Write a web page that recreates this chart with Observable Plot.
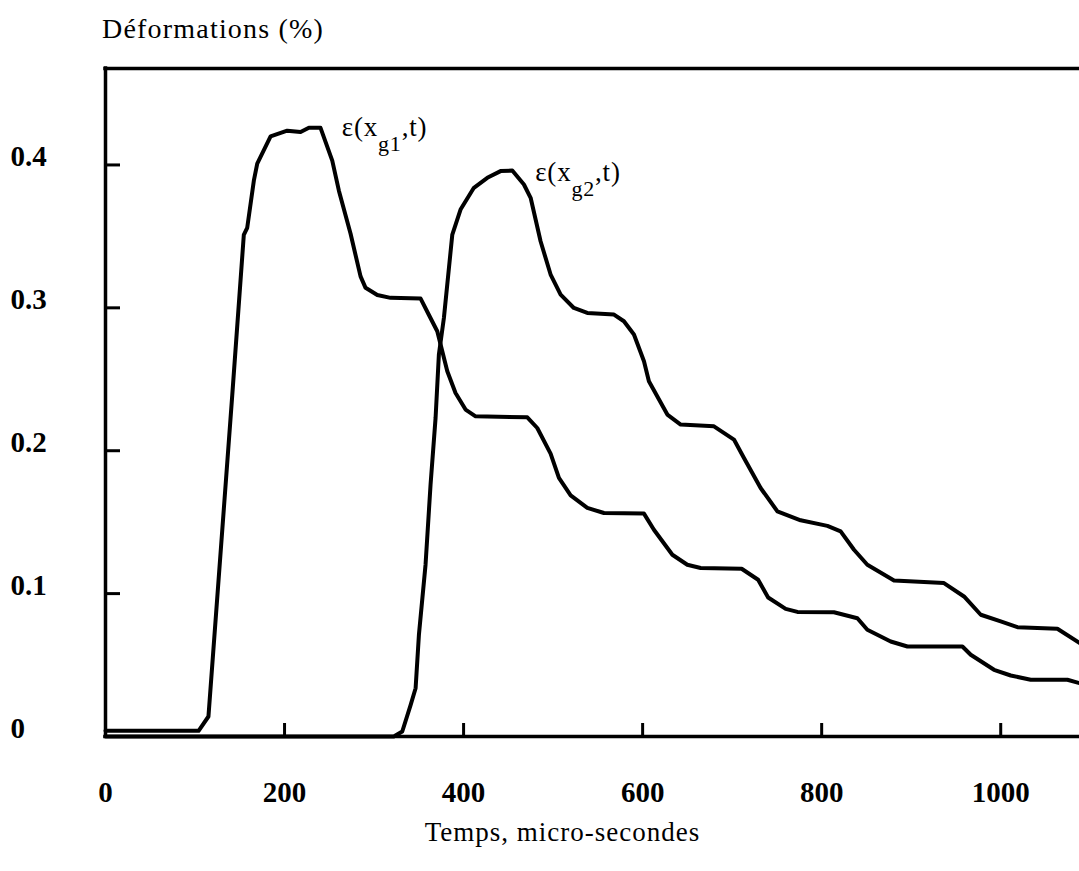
<!DOCTYPE html>
<html><head><meta charset="utf-8">
<script src="https://cdn.jsdelivr.net/npm/d3@7"></script>
<script src="https://cdn.jsdelivr.net/npm/@observablehq/plot@0.6"></script>
<style>
html,body{margin:0;padding:0;background:#fff;}
#title{height:50px;position:relative;font-family:"Liberation Serif","Times New Roman",serif;font-size:28px;line-height:28px;color:#000;}
#title span{position:absolute;left:102px;top:15px;letter-spacing:1.2px;white-space:nowrap;}
.xtitle text{letter-spacing:1px;}
.curve-label text{letter-spacing:0.8px;}
</style></head><body>
<div id="title"><span>Déformations (%)</span></div>
<div id="chart"></div>
<script>
// Temps (micro-secondes) and déformations (%)
const timeG1 = [0,104,115,141.6,154.5,158.3,165.7,169.5,184.4,203,217.9,227.2,240.2,253.3,260.7,273.7,284.9,290.5,303.6,318.4,352,361.3,370.6,381.8,391,402.2,413.4,471.2,482.3,497.2,506.5,519.6,538.2,556.8,601.5,612.6,633.2,649.9,664.8,710.6,729,740.2,759.8,772.9,813.7,839.9,851,877.1,895.8,957.2,966.5,992.5,1011.2,1033.5,1074.5,1088.3];
const strainG1 = [0.004,0.004,0.014,0.239,0.351,0.356,0.389,0.401,0.420,0.424,0.423,0.426,0.426,0.403,0.382,0.352,0.322,0.314,0.309,0.307,0.3065,0.295,0.2836,0.2556,0.2404,0.2288,0.2241,0.2234,0.2159,0.198,0.181,0.1688,0.160,0.1564,0.156,0.1447,0.1272,0.1202,0.1179,0.1174,0.1097,0.0973,0.0893,0.0872,0.087,0.0828,0.0747,0.0665,0.063,0.063,0.0572,0.0467,0.0427,0.0397,0.0397,0.0373];
const timeG2 = [0,303.6,322,331.5,340.8,346.4,350.1,357.5,363.1,368.7,372.4,378,387.4,396.6,411.5,426.5,441.3,454.4,467.4,474.9,486,497.2,508.4,523.2,538.2,568,579.1,590.3,601.5,607,627.6,642.5,679.7,702,713.2,731.8,750.5,776.5,806.4,821.2,836.1,851,880.8,936.6,959,977.7,1000,1018.7,1063.3,1088.3];
const strainG2 = [0,0,0,0.0035,0.022,0.0338,0.0712,0.1202,0.1763,0.2229,0.2673,0.2929,0.3513,0.3688,0.384,0.391,0.3957,0.3961,0.3863,0.377,0.3466,0.3233,0.3093,0.2999,0.2964,0.2953,0.2906,0.2813,0.2626,0.2486,0.2253,0.2183,0.2171,0.2078,0.1949,0.1739,0.1576,0.1513,0.1474,0.1436,0.1307,0.1202,0.1092,0.1074,0.098,0.0852,0.0805,0.0765,0.0754,0.0653];
const xTicks = [0,200,400,600,800,1000];
const yTicks = [0,0.1,0.2,0.3,0.4];
const labelNames = ["g1","g2"];
const labelTime = [264,480];
const labelStrain = [0.42,0.389];
const xTitle = "Temps, micro-secondes";

const xDomain = [0,1088];
const yDomain = [0,0.4675];

const g1 = timeG1.map((t,i)=>({t, v: strainG1[i]}));
const g2 = timeG2.map((t,i)=>({t, v: strainG2[i]}));
const labels = labelNames.map((n,i)=>({name:n, t: labelTime[i], v: labelStrain[i]}));

const W = 1079, H = 821, mL = 105, mR = 0, mT = 18, mB = 135;
const serif = '"Liberation Serif","Times New Roman",serif';

const plot = Plot.plot({
  width: W, height: H,
  marginLeft: mL, marginRight: mR, marginTop: mT, marginBottom: mB,
  style: {fontFamily: serif, color: "#000", background: "#fff", overflow: "visible"},
  x: {domain: xDomain},
  y: {domain: yDomain},
  marks: [
    Plot.tickX(xTicks.slice(1), {x: d=>d, insetTop: (H-mT-mB)-13, stroke: "#000", strokeWidth: 3}),
    Plot.tickY(yTicks.slice(1), {y: d=>d, insetRight: (W-mL-mR)-15, stroke: "#000", strokeWidth: 3}),
    Plot.axisX(xTicks, {tickSize: 0, tickPadding: 45, fontSize: 29, fontWeight: "bold", label: null, tickFormat: d=>String(d)}),
    Plot.axisY(yTicks, {tickSize: 0, tickPadding: 95, textAnchor: "start", dy: -8, fontSize: 29, fontWeight: "bold", label: null, tickFormat: d=>String(d)}),
    Plot.ruleY([yDomain[1]], {stroke: "#000", strokeWidth: 3.5, strokeLinecap: "square"}),
    Plot.ruleY([yDomain[0]], {stroke: "#000", strokeWidth: 3.5, strokeLinecap: "square"}),
    Plot.ruleX([xDomain[0]], {stroke: "#000", strokeWidth: 3.5, strokeLinecap: "square"}),
    Plot.line(g1, {x: "t", y: "v", stroke: "#000", strokeWidth: 4, strokeLinejoin: "round"}),
    Plot.line(g2, {x: "t", y: "v", stroke: "#000", strokeWidth: 4, strokeLinejoin: "round"}),
    Plot.text(labels, {x: "t", y: "v", text: "name", textAnchor: "start", lineAnchor: "bottom", fontSize: 27, className: "curve-label"}),
    Plot.text([xTitle], {frameAnchor: "bottom", text: d=>d, dx: -30, dy: 104, fontSize: 27, className: "xtitle"})
  ]
});

d3.select(plot).selectAll(".curve-label text").each(function(){
  const name = this.textContent;
  const t = d3.select(this);
  t.text(null);
  t.append("tspan").text("ε(x");
  t.append("tspan").attr("dy", 15).attr("font-size", 22).text(name);
  t.append("tspan").attr("dy", -15).text(",t)");
});

document.getElementById("chart").appendChild(plot);
</script>
</body></html>
